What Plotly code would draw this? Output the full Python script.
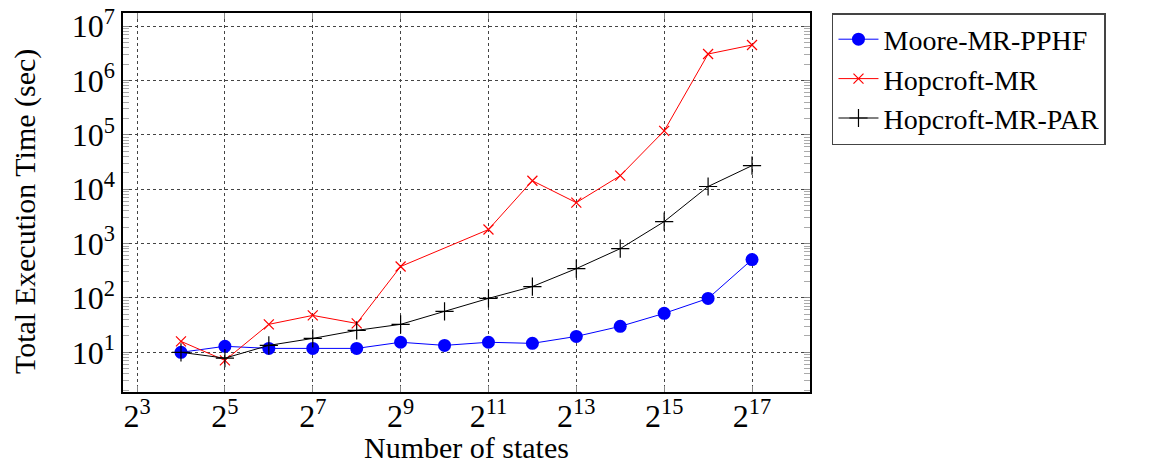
import plotly.graph_objects as go

# Problem sizes are powers of two; store the exponents
exp_all = [4, 5, 6, 7, 8, 9, 10, 11, 12, 13, 14, 15, 16, 17]
exp_hopcroft = [4, 5, 6, 7, 8, 9, 11, 12, 13, 14, 15, 16, 17]

# Total execution time in seconds
moore_mr_pphf = [10, 12.9, 11.8, 11.8, 11.8, 15.3, 13.4, 15.3, 14.6, 19.6, 30, 52, 98, 508]
hopcroft_mr = [15.9, 7.1, 32.7, 47.7, 34, 378, 1810, 14300, 5650, 17700, 118000, 3060000, 4480000]
hopcroft_mr_par = [10, 7.8, 13.4, 18, 25.3, 32.7, 56.6, 98, 162, 346, 806, 2530, 11200, 27100]

x_tick_exps = [3, 5, 7, 9, 11, 13, 15, 17]
y_tick_exps = [1, 2, 3, 4, 5, 6, 7]

FONT = "Liberation Serif"
TICK_SIZE = 32
TITLE_SIZE = 30
LEGEND_SIZE = 28

def pow2(e):
    return [2 ** k for k in e]

fig = go.Figure()
fig.add_trace(go.Scatter(
    x=pow2(exp_all), y=moore_mr_pphf, mode="lines+markers", name="Moore-MR-PPHF",
    line=dict(color="#0000ff", width=1),
    marker=dict(symbol="circle", size=13, color="#0000ff"),
))
fig.add_trace(go.Scatter(
    x=pow2(exp_hopcroft), y=hopcroft_mr, mode="lines+markers", name="Hopcroft-MR",
    line=dict(color="#ff0000", width=1),
    marker=dict(symbol="x-thin", size=10, color="#ff0000", line=dict(color="#ff0000", width=1.2)),
))
fig.add_trace(go.Scatter(
    x=pow2(exp_all), y=hopcroft_mr_par, mode="lines+markers", name="Hopcroft-MR-PAR",
    line=dict(color="#000000", width=1),
    marker=dict(symbol="cross-thin", size=13, color="#000000", line=dict(color="#000000", width=1.2)),
))

grid = dict(showgrid=True, gridcolor="#444444", griddash="dot", gridwidth=1)

fig.update_xaxes(
    type="log", range=[2.68 * 0.30103, 18.32 * 0.30103], automargin=False,
    tickvals=pow2(x_tick_exps), ticktext=[f"2<sup>{e}</sup>" for e in x_tick_exps],
    ticks="inside", ticklen=6, tickcolor="#888888", mirror="allticks",
    ticklabelstandoff=-5,
    showline=True, linecolor="#000", linewidth=1.5,
    tickfont=dict(size=TICK_SIZE, family=FONT, color="#000"), zeroline=False, **grid,
)
fig.update_yaxes(
    type="log", range=[0.27, 7.24], automargin=False,
    tickvals=[10 ** e for e in y_tick_exps], ticktext=[f"10<sup>{e}</sup>" for e in y_tick_exps],
    ticks="inside", ticklen=6, tickcolor="#888888", mirror="allticks",
    showline=True, linecolor="#000", linewidth=1.5,
    minor=dict(ticks="inside", ticklen=6, tickcolor="#aaaaaa", dtick="D1", showgrid=False),
    tickfont=dict(size=TICK_SIZE, family=FONT, color="#000"), zeroline=False, **grid,
)

# Axis titles placed as annotations for exact positioning
title_font = dict(size=TITLE_SIZE, family=FONT, color="#000")
fig.add_annotation(text="Number of states", xref="paper", yref="paper",
                   x=0.5, y=-0.195, xanchor="center", yanchor="bottom",
                   showarrow=False, font=title_font)
fig.add_annotation(text="Total Execution Time (sec)", xref="paper", yref="paper",
                   x=-0.1426, y=0.475, xanchor="center", yanchor="middle",
                   textangle=-90, showarrow=False, font=title_font)

fig.update_layout(
    width=1155, height=466,
    margin=dict(l=123, r=345, t=13, b=74, autoexpand=False),
    paper_bgcolor="#ffffff", plot_bgcolor="#ffffff",
    font=dict(family=FONT, color="#000"),
    legend=dict(
        x=1.032, y=1.0, xanchor="left", yanchor="top",
        bordercolor="#444444", borderwidth=1.5, bgcolor="#ffffff",
        font=dict(size=LEGEND_SIZE, family=FONT, color="#000"),
        itemwidth=40, tracegroupgap=0,
    ),
    showlegend=True,
)

fig.write_html("out.html")
